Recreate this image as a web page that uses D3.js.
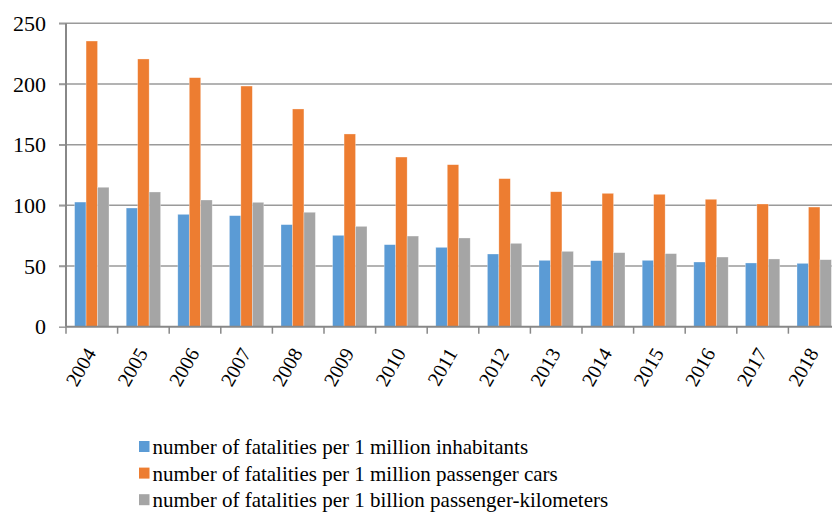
<!DOCTYPE html>
<html>
<head>
<meta charset="utf-8">
<script src="https://cdn.jsdelivr.net/npm/d3@7"></script>
<style>
  body { margin: 0; background: #fff; }
</style>
</head>
<body>
<div id="vis"></div>
<script>
const FRAME_WIDTH = 832;
const FRAME_HEIGHT = 513;
const MARGINS = {left: 66, top: 23.3};
const VIS_HEIGHT = 326.7 - MARGINS.top;
const VIS_WIDTH = 15 * 51.6;
const FONT = "Liberation Serif";

const years = ["2004","2005","2006","2007","2008","2009","2010","2011","2012","2013","2014","2015","2016","2017","2018"];
const perInhabitants = [102.7, 97.8, 92.6, 91.5, 84.1, 75.3, 67.6, 65.4, 59.9, 54.7, 54.4, 54.7, 53.3, 52.5, 52.2];
const perCars = [235.4, 220.6, 205.2, 198.3, 179.4, 158.8, 139.8, 133.5, 122.0, 111.2, 109.9, 109.1, 105.0, 101.1, 98.6];
const perKm = [114.9, 111.0, 104.4, 102.5, 94.3, 82.7, 74.7, 73.1, 68.7, 62.1, 61.0, 60.2, 57.4, 55.8, 55.2];
const yTicks = [0, 50, 100, 150, 200, 250];

const seriesNames = [
  "number of fatalities per 1 million inhabitants",
  "number of fatalities per 1 million passenger cars",
  "number of fatalities per 1 billion passenger-kilometers"
];
const seriesColors = ["#5B9BD5", "#ED7D31", "#A5A5A5"];
const seriesValues = [perInhabitants, perCars, perKm];

const FRAME = d3.select("#vis")
  .append("svg")
    .attr("width", FRAME_WIDTH)
    .attr("height", FRAME_HEIGHT)
    .style("display", "block");

const X_SCALE = d3.scaleBand()
  .domain(years)
  .range([0, VIS_WIDTH])
  .paddingInner(1 / 3)
  .paddingOuter(1 / 6);

// inner band -> series
const X_INNER = d3.scaleBand()
  .domain([0, 1, 2])
  .range([0, X_SCALE.bandwidth()]);

const Y_SCALE = d3.scaleLinear()
  .domain([0, 250])
  .range([VIS_HEIGHT, 0]);

const plot = FRAME.append("g")
  .attr("transform", "translate(" + MARGINS.left + "," + MARGINS.top + ")");

// gridlines
plot.selectAll(".grid")
  .data(yTicks.filter(d => d > 0))
  .enter()
  .append("line")
    .attr("x1", -7)
    .attr("x2", FRAME_WIDTH)
    .attr("y1", d => Y_SCALE(d))
    .attr("y2", d => Y_SCALE(d))
    .attr("stroke", "#9a9a9a")
    .attr("stroke-width", 1.5);

// bars
const groups = plot.selectAll(".year")
  .data(years)
  .enter()
  .append("g")
    .attr("transform", d => "translate(" + X_SCALE(d) + ",0)");

groups.selectAll("rect")
  .data((d, i) => seriesValues.map((vals, s) => ({s: s, v: vals[i]})))
  .enter()
  .append("rect")
    .attr("x", d => X_INNER(d.s))
    .attr("width", X_INNER.bandwidth())
    .attr("y", d => Y_SCALE(d.v))
    .attr("height", d => VIS_HEIGHT - Y_SCALE(d.v))
    .attr("fill", d => seriesColors[d.s])
    .attr("stroke", "#ffffff")
    .attr("stroke-opacity", 0.5)
    .attr("stroke-width", 0.6);

// y axis
const yAxis = plot.append("g")
  .call(d3.axisLeft(Y_SCALE).tickValues(yTicks).tickSize(7).tickPadding(13));
yAxis.select(".domain").remove();
yAxis.selectAll(".tick line").attr("stroke", "#9a9a9a").attr("stroke-width", 1.5);
yAxis.selectAll("text")
  .attr("font-family", FONT)
  .attr("font-size", "22px")
  .attr("fill", "#000");
yAxis.attr("font-family", FONT);

plot.append("line")
  .attr("x1", 0).attr("x2", 0)
  .attr("y1", 0).attr("y2", VIS_HEIGHT)
  .attr("stroke", "#888")
  .attr("stroke-width", 2);

// x axis
const boundaries = years.map(d => X_SCALE(d) - X_SCALE.step() / 6);
plot.append("line")
  .attr("x1", 0).attr("x2", FRAME_WIDTH)
  .attr("y1", VIS_HEIGHT).attr("y2", VIS_HEIGHT)
  .attr("stroke", "#888")
  .attr("stroke-width", 2);

plot.selectAll(".xtick")
  .data(boundaries)
  .enter()
  .append("line")
    .attr("x1", d => d).attr("x2", d => d)
    .attr("y1", VIS_HEIGHT).attr("y2", VIS_HEIGHT + 7)
    .attr("stroke", "#888")
    .attr("stroke-width", 1.5);

plot.selectAll(".xlabel")
  .data(years)
  .enter()
  .append("text")
    .attr("transform", d => "translate(" + (X_SCALE(d) + X_SCALE.bandwidth() / 2 - 1) + "," + (VIS_HEIGHT + 23) + ") rotate(-60)")
    .attr("text-anchor", "end")
    .attr("dy", "0.35em")
    .attr("font-family", FONT)
    .attr("font-size", "20px")
    .attr("fill", "#000")
    .text(d => d);

// legend
const legend = FRAME.append("g")
  .attr("transform", "translate(139,446.5)");

const items = legend.selectAll(".item")
  .data(seriesNames)
  .enter()
  .append("g")
    .attr("transform", (d, i) => "translate(0," + (i * 26.6) + ")");

items.append("rect")
  .attr("x", 0).attr("y", -5.5)
  .attr("width", 10.5).attr("height", 11)
  .attr("fill", (d, i) => seriesColors[i]);

items.append("text")
  .attr("x", 13.5)
  .attr("dy", "0.36em")
  .attr("font-family", FONT)
  .attr("font-size", "21px")
  .attr("fill", "#000")
  .text(d => d);
</script>
</body>
</html>
